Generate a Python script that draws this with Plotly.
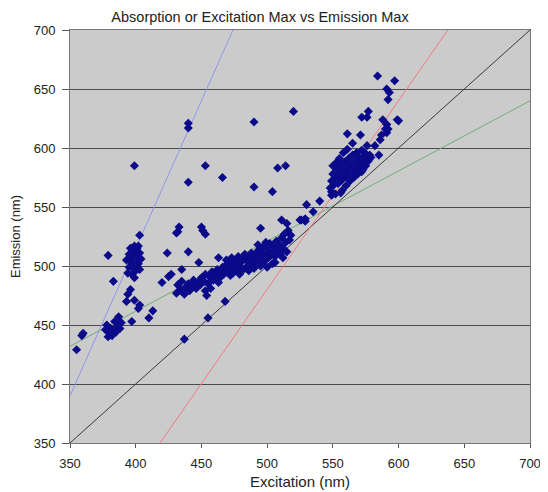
import plotly.graph_objects as go

# ---- data ----
pts = [
    # far left
    (355, 429), (360, 443), (359, 441),
    (379, 509), (383, 487), (379, 440),
    # lower-left cluster 375-390
    (378, 450), (381, 447), (384, 453), (387, 457), (380, 443), (383, 445),
    (386, 449), (389, 452), (377, 446), (382, 441), (385, 444), (388, 447),
    # vertical cluster ~400
    (394, 494), (395, 499), (396, 504), (397, 509), (398, 514), (399, 517),
    (400, 512), (401, 507), (402, 502), (403, 497), (397, 493), (399, 498),
    (401, 515), (403, 511), (395, 510), (396, 515), (398, 503), (400, 496),
    (402, 517), (404, 506), (393, 505), (399, 490), (403, 526),
    (396, 480), (394, 476), (393, 470), (399, 471), (403, 467), (402, 464),
    (397, 453),
    # gap region
    (413, 462), (410, 456), (420, 486), (425, 491), (424, 511), (427, 493),
    (431, 528), (432, 529),
    # outliers
    (399, 585), (440, 621), (440, 617), (490, 622), (520, 631),
    (453, 585), (466, 575), (440, 571), (490, 567), (508, 583), (514, 585),
    (504, 563), (451, 530), (453, 527), (495, 532), (433, 533), (450, 533),
    (440, 512), (435, 497), (448, 503), (463, 507),
    (453, 479), (454, 475), (468, 470), (455, 456), (437, 438),
    # band 431-466
    (431, 477), (432, 484), (434, 480), (435, 487), (437, 476), (438, 482),
    (440, 485), (441, 479), (443, 483), (444, 488), (446, 481), (447, 486),
    (449, 484), (450, 490), (452, 487), (453, 493), (455, 485), (456, 491),
    (458, 495), (459, 488), (461, 492), (462, 497), (464, 490), (465, 495),
    (466, 499), (457, 481), (463, 486),
    # band 466-490
    (467, 493), (468, 500), (469, 505), (470, 496), (471, 502), (472, 498),
    (473, 507), (474, 494), (475, 501), (476, 504), (477, 497), (478, 508),
    (479, 500), (480, 503), (481, 496), (482, 506), (483, 510), (484, 499),
    (485, 504), (486, 508), (487, 501), (488, 511), (489, 505), (490, 498),
    (472, 492), (479, 493), (486, 496),
    # band 490-518
    (491, 503), (492, 509), (493, 513), (494, 506), (495, 500), (496, 511),
    (497, 516), (498, 504), (499, 509), (500, 514), (501, 507), (502, 519),
    (503, 511), (504, 502), (505, 516), (506, 508), (507, 521), (508, 513),
    (509, 518), (510, 510), (511, 524), (512, 515), (513, 527), (514, 520),
    (515, 512), (516, 530), (517, 522), (518, 526), (496, 505), (500, 499),
    (506, 503), (512, 507), (493, 518), (499, 520),
    # between clusters
    (511, 539), (515, 536), (525, 539), (529, 540), (530, 552), (540, 555),
    (526, 539), (529, 538), (535, 546),
    # upper cluster
    (548, 566), (549, 572), (550, 578), (551, 569), (552, 575), (553, 582),
    (554, 570), (555, 577), (556, 585), (557, 573), (558, 580), (559, 588),
    (560, 576), (561, 583), (562, 591), (563, 579), (564, 586), (565, 594),
    (566, 581), (567, 589), (568, 596), (569, 584), (570, 592), (571, 587),
    (572, 598), (573, 582), (574, 590), (575, 595), (553, 588), (557, 564),
    (560, 568), (563, 572), (566, 575), (569, 578), (572, 580), (550, 585),
    (555, 591), (558, 596), (561, 599), (556, 562), (552, 561), (575, 585),
    (577, 589), (579, 592), (549, 563), (549, 560),
    # upper outliers
    (584, 661), (597, 657), (591, 650), (593, 647), (592, 641),
    (572, 626), (577, 631), (576, 626),
    (588, 624), (591, 620), (590, 616), (591, 613), (599, 624), (600, 623),
    (587, 611), (586, 607), (592, 616), (561, 612), (571, 611), (565, 604),
    (582, 602), (585, 594), (576, 602), (574, 596), (578, 594), (573, 592),
]
exc = [p[0] for p in pts]
em = [p[1] for p in pts]

# reference lines (end points in data units)
line_black_x = [350, 700]; line_black_y = [350, 700]
line_red_x = [418.5, 637.5]; line_red_y = [350, 700]
line_blue_x = [350, 474]; line_blue_y = [390, 700]
line_green_x = [350, 700]; line_green_y = [432, 640]

ticks = [350, 400, 450, 500, 550, 600, 650, 700]

fig = go.Figure()
fig.add_trace(go.Scatter(x=line_blue_x, y=line_blue_y, mode="lines",
                         line=dict(color="#8f95ee", width=1), showlegend=False))
fig.add_trace(go.Scatter(x=line_green_x, y=line_green_y, mode="lines",
                         line=dict(color="#6fae78", width=1), showlegend=False))
fig.add_trace(go.Scatter(x=line_black_x, y=line_black_y, mode="lines",
                         line=dict(color="#3a3a3a", width=1), showlegend=False))
fig.add_trace(go.Scatter(x=line_red_x, y=line_red_y, mode="lines",
                         line=dict(color="#f07a82", width=1), showlegend=False))
fig.add_trace(go.Scatter(x=exc, y=em, mode="markers",
                         marker=dict(symbol="diamond", size=7, color="#0a0a8a",
                                     line=dict(width=0)),
                         showlegend=False))

font = "Liberation Sans, Arial, sans-serif"
# the page body adds an 8px offset, so the figure is 540x484
fig.update_layout(
    width=540, height=484,
    margin=dict(l=62, r=18, t=22, b=49, autoexpand=False),
    paper_bgcolor="white", plot_bgcolor="#cbcbcb",
    font=dict(family=font, size=13, color="#222"),
    title=dict(text="Absorption or Excitation Max vs Emission Max",
               x=0.4667, xanchor="center", y=0.982, yanchor="middle",
               font=dict(size=14.5, family=font, color="#222")),
    xaxis=dict(range=[350, 700], tickvals=ticks, showgrid=False,
               automargin=False,
               zeroline=False, showline=True, linecolor="#777", linewidth=1,
               mirror=True, ticks="outside", ticklen=4, tickcolor="#555",
               ticklabelstandoff=4,
               tickfont=dict(size=13),
               title=dict(text="Excitation (nm)", standoff=6,
                          font=dict(size=15))),
    yaxis=dict(range=[350, 700], tickvals=ticks, showgrid=True,
               automargin=False,
               gridcolor="#4a4a4a", gridwidth=1, zeroline=False,
               showline=True, linecolor="#777", linewidth=1, mirror=True,
               ticks="outside", ticklen=7, tickcolor="#555",
               ticklabelstandoff=4,
               tickfont=dict(size=13),
               title=dict(text="Emission (nm)", standoff=10,
                          font=dict(size=13))),
)
fig.write_html("out.html")
